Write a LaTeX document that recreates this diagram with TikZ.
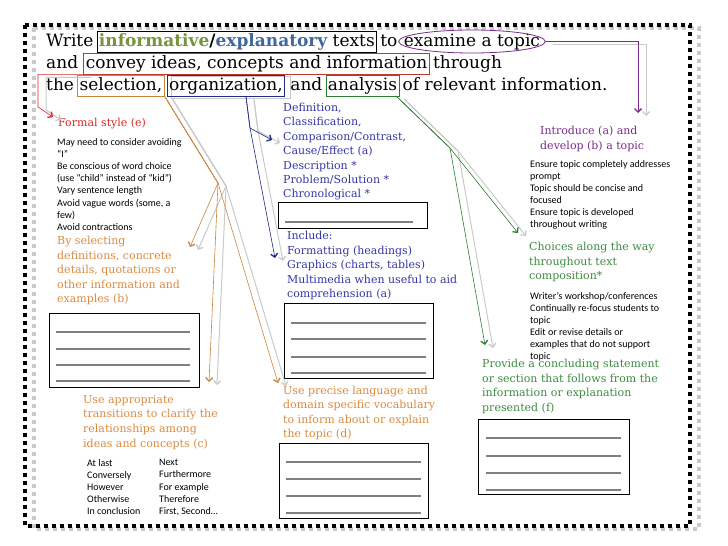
\documentclass[tikz,border=0pt]{standalone}
\usepackage{fontspec}
\usepackage{xcolor}
\usetikzlibrary{arrows.meta,positioning,calc}
\pgfdeclarelayer{background}
\pgfsetlayers{background,main}
\newfontfamily\slabfont{DejaVu Serif}
\newfontfamily\notefont{Carlito}
\definecolor{infogreen}{HTML}{77933C}
\definecolor{infoblue}{HTML}{41689C}
\definecolor{ideared}{HTML}{C0392B}
\definecolor{formalred}{HTML}{D42A2A}
\definecolor{selorange}{HTML}{C8843F}
\definecolor{orangetext}{HTML}{DB8A3E}
\definecolor{orgnavy}{HTML}{1F2A80}
\definecolor{navytext}{HTML}{3535A8}
\definecolor{anagreen}{HTML}{2F7D32}
\definecolor{greentext}{HTML}{3D8B40}
\definecolor{topicpurple}{HTML}{7A2B8A}
\definecolor{ghostgray}{HTML}{C9C9C9}
\definecolor{blankgray}{HTML}{808080}
\tikzset{
  frame/.style={
    draw=black,
    line width=4pt,
    dash pattern=on 4pt off 4pt
  },
  frame ghost/.style={
    frame,
    draw=ghostgray
  },
  titleword/.style={
    font=\slabfont\fontsize{17}{22}\selectfont,
    inner sep=0pt,
    text height=12.5pt,
    text depth=3.5pt
  },
  wordbox/.style={
    titleword,
    draw,
    line width=0.8pt,
    inner xsep=2pt,
    inner ysep=2.5pt
  },
  heading/.style={
    font=\slabfont\fontsize{11}{14.5}\selectfont,
    inner sep=0pt,
    align=left,
    anchor=north west
  },
  note/.style={
    font=\notefont\fontsize{10}{12.2}\selectfont,
    text=black,
    inner sep=0pt,
    align=left,
    anchor=north west
  },
  blankbox/.style={
    draw=black,
    line width=0.8pt,
    inner sep=0pt,
    anchor=north west,
    minimum width=150pt,
    minimum height=75pt
  },
  blankline/.style={
    draw=blankgray,
    line width=1.6pt
  },
  link/.style={
    -{Straight Barb[length=3.5pt,width=7pt,line width=1.3pt]},
    line width=0.6pt
  },
  ghost/.style={
    -{Straight Barb[length=3.5pt,width=7pt,line width=1.3pt]},
    draw=ghostgray,
    line width=1pt,
    transform canvas={shift={(8pt,-3pt)}}
  }
}

\begin{document}
\begin{tikzpicture}[x=1pt, y=-1pt]
\useasboundingbox (0,0) rectangle (728,546);

% dotted page frame
\draw[frame ghost] (34,28) rectangle (699,529);
\draw[frame] (25,25) rectangle (690,526);

% ---------------------------------------------------------------------------
% Standard statement
% ---------------------------------------------------------------------------
\node[titleword, anchor=base west] (write) at (46,46) {Write};
\node[wordbox, base right=3pt of write] (texts)
  {\textbf{\textcolor{infogreen}{informative}/\textcolor{infoblue}{explanatory}} texts};
\node[titleword, base right=3pt of texts] (to) {to};
\node[titleword, base right=6pt of to] (examine) {examine a topic};
\draw[topicpurple, line width=0.8pt]
  let \p1 = ($(examine.east)-(examine.west)$) in
  (examine.center) ellipse [x radius={0.5*\x1+5pt}, y radius=11.5pt];

\node[titleword, anchor=base west] (and) at (46,68) {and};
\node[wordbox, draw=ideared, base right=5pt of and] (convey)
  {convey ideas, concepts and information};
\node[titleword, base right=3pt of convey] (through) {through};

\node[titleword, anchor=base west] (the) at (46,90) {the};
\node[wordbox, draw=selorange, base right=3pt of the] (selection) {selection,};
\node[wordbox, draw=orgnavy, base right=2pt of selection] (organization) {organization,};
\node[titleword, base right=5pt of organization] (and2) {and};
\node[wordbox, draw=anagreen, base right=3pt of and2] (analysis) {analysis};
\node[titleword, base right=3pt of analysis] (relevant) {of relevant information.};

\begin{pgfonlayer}{background}
\draw[draw=ghostgray, line width=0.8pt, transform canvas={shift={(5pt,-2pt)}}]
  (organization.south west) rectangle (organization.north east);
\end{pgfonlayer}

% ---------------------------------------------------------------------------
% Left column
% ---------------------------------------------------------------------------
\node[heading, text=formalred] (formal) at (58,118) {Formal style (e)};
\node[note] (stylenotes) at (57,138)
  {May need to consider avoiding\\“I”\\Be conscious of word choice\\(use “child” instead of “kid”)\\Vary sentence length\\Avoid vague words (some, a\\few)\\Avoid contractions};
\node[heading, text=orangetext] (selecting) at (57,236)
  {By selecting\\definitions, concrete\\details, quotations or\\other information and\\examples (b)};
\node[blankbox, minimum height=74pt] (boxb) at (49,313) {};
\node[heading, text=orangetext, font=\slabfont\fontsize{11}{14.7}\selectfont] (useapp) at (83,395)
  {Use appropriate\\transitions to clarify the\\relationships among\\ideas and concepts (c)};
\node[note] (transleft) at (87,459)
  {At last\\Conversely\\However\\Otherwise\\In conclusion};
\node[note] (transright) at (159,459)
  {Next\\Furthermore\\For example\\Therefore\\First, Second…};

% ---------------------------------------------------------------------------
% Middle column
% ---------------------------------------------------------------------------
\node[heading, text=navytext, font=\slabfont\fontsize{11}{14.4}\selectfont] (patterns) at (283,103)
  {Definition,\\Classification,\\Comparison/Contrast,\\Cause/Effect (a)\\Description *\\Problem/Solution *\\Chronological *};
\node[blankbox, minimum width=149pt, minimum height=26pt] (boxa) at (278,202) {};
\node[heading, text=navytext] (include) at (287,231)
  {Include:\\Formatting (headings)\\Graphics (charts, tables)\\Multimedia when useful to aid\\comprehension (a)};
\node[blankbox, minimum width=149pt] (boxc) at (284,303) {};
\node[heading, text=orangetext, font=\slabfont\fontsize{11}{14.3}\selectfont] (precise) at (283,386)
  {Use precise language and\\domain specific vocabulary\\to inform about or explain\\the topic (d)};
\node[blankbox, minimum width=149pt] (boxd) at (279,443) {};

% ---------------------------------------------------------------------------
% Right column
% ---------------------------------------------------------------------------
\node[heading, text=topicpurple, font=\slabfont\fontsize{11}{15}\selectfont] (introduce) at (540,126)
  {Introduce (a) and\\develop (b) a topic};
\node[note, font=\notefont\fontsize{10}{12}\selectfont] (topicnotes) at (530,160)
  {Ensure topic completely addresses\\prompt\\Topic should be concise and\\focused\\Ensure topic is developed\\throughout writing};
\node[heading, text=greentext] (choices) at (529,242)
  {Choices along the way\\throughout text\\composition*};
\node[note, font=\notefont\fontsize{10}{12}\selectfont] (choicenotes) at (530,292)
  {Writer’s workshop/conferences\\Continually re-focus students to\\topic\\Edit or revise details or\\examples that do not support\\topic};
\node[heading, text=greentext, font=\slabfont\fontsize{11}{14.6}\selectfont] (conclude) at (482,359)
  {Provide a concluding statement\\or section that follows from the\\information or explanation\\presented (f)};
\node[blankbox, minimum width=151pt] (boxf) at (478,419) {};

% Blank writing lines.
\draw[blankline] ([shift={(7,20)}]boxa.north west) -- ([shift={(-15,20)}]boxa.north east);
\draw[blankline] ([shift={(7,19)}]boxb.north west) -- ([shift={(-10,19)}]boxb.north east);
\draw[blankline] ([shift={(7,36)}]boxb.north west) -- ([shift={(-10,36)}]boxb.north east);
\draw[blankline] ([shift={(7,52)}]boxb.north west) -- ([shift={(-10,52)}]boxb.north east);
\draw[blankline] ([shift={(7,68)}]boxb.north west) -- ([shift={(-10,68)}]boxb.north east);
\draw[blankline] ([shift={(7,20)}]boxc.north west) -- ([shift={(-8,20)}]boxc.north east);
\draw[blankline] ([shift={(7,36)}]boxc.north west) -- ([shift={(-8,36)}]boxc.north east);
\draw[blankline] ([shift={(7,54)}]boxc.north west) -- ([shift={(-8,54)}]boxc.north east);
\draw[blankline] ([shift={(7,70)}]boxc.north west) -- ([shift={(-8,70)}]boxc.north east);
\draw[blankline] ([shift={(7,19)}]boxd.north west) -- ([shift={(-8,19)}]boxd.north east);
\draw[blankline] ([shift={(7,36)}]boxd.north west) -- ([shift={(-8,36)}]boxd.north east);
\draw[blankline] ([shift={(7,53)}]boxd.north west) -- ([shift={(-8,53)}]boxd.north east);
\draw[blankline] ([shift={(7,70)}]boxd.north west) -- ([shift={(-8,70)}]boxd.north east);
\draw[blankline] ([shift={(8,19)}]boxf.north west) -- ([shift={(-9,19)}]boxf.north east);
\draw[blankline] ([shift={(8,37)}]boxf.north west) -- ([shift={(-9,37)}]boxf.north east);
\draw[blankline] ([shift={(8,54)}]boxf.north west) -- ([shift={(-9,54)}]boxf.north east);
\draw[blankline] ([shift={(8,71)}]boxf.north west) -- ([shift={(-9,71)}]boxf.north east);

% ---------------------------------------------------------------------------
% Connectors
% ---------------------------------------------------------------------------
\coordinate (formalbend) at (38,107);
\coordinate (formaltip) at (53,117);
\coordinate (selfork) at (218,183);
\coordinate (examplestip) at (190,247);
\coordinate (transtip) at (209,382);
\coordinate (precisetip) at (278,383);
\coordinate (orgfork) at (250,128);
\coordinate (patterntip) at (272,140);
\coordinate (graphicstip) at (275,258);
\coordinate (anafork) at (450,148);
\coordinate (choicestip) at (518,233);
\coordinate (concludetip) at (485,345);
\coordinate (introtip) at (638,113);

\draw[ghost] (convey.south west) -| (formalbend) -- (formaltip);
\draw[link, draw=formalred] (convey.south west) -| (formalbend) -- (formaltip);

\draw[ghost] (selection.south east) -- (selfork) -- (examplestip);
\draw[ghost] (selection.south east) -- (selfork) -- (transtip);
\draw[ghost] (selection.south east) -- (selfork) -- (precisetip);
\draw[link, draw=selorange] (selection.south east) -- (selfork) -- (examplestip);
\draw[link, draw=selorange] (selection.south east) -- (selfork) -- (transtip);
\draw[link, draw=selorange] (selection.south east) -- (selfork) -- (precisetip);

\draw[ghost] ([xshift=20pt]organization.south) -- (orgfork) -- (patterntip);
\draw[ghost] ([xshift=20pt]organization.south) -- (orgfork) -- (graphicstip);
\draw[link, draw=orgnavy] ([xshift=20pt]organization.south) -- (orgfork) -- (patterntip);
\draw[link, draw=orgnavy] ([xshift=20pt]organization.south) -- (orgfork) -- (graphicstip);

\draw[ghost] ([xshift=-3pt]analysis.south east) -- (anafork) -- (choicestip);
\draw[ghost] ([xshift=-3pt]analysis.south east) -- (anafork) -- (concludetip);
\draw[link, draw=anagreen] ([xshift=-3pt]analysis.south east) -- (anafork) -- (choicestip);
\draw[link, draw=anagreen] ([xshift=-3pt]analysis.south east) -- (anafork) -- (concludetip);

\draw[ghost] ([xshift=5pt]examine.east) -| (introtip);
\draw[link, draw=topicpurple] ([xshift=5pt]examine.east) -| (introtip);

\end{tikzpicture}
\end{document}
